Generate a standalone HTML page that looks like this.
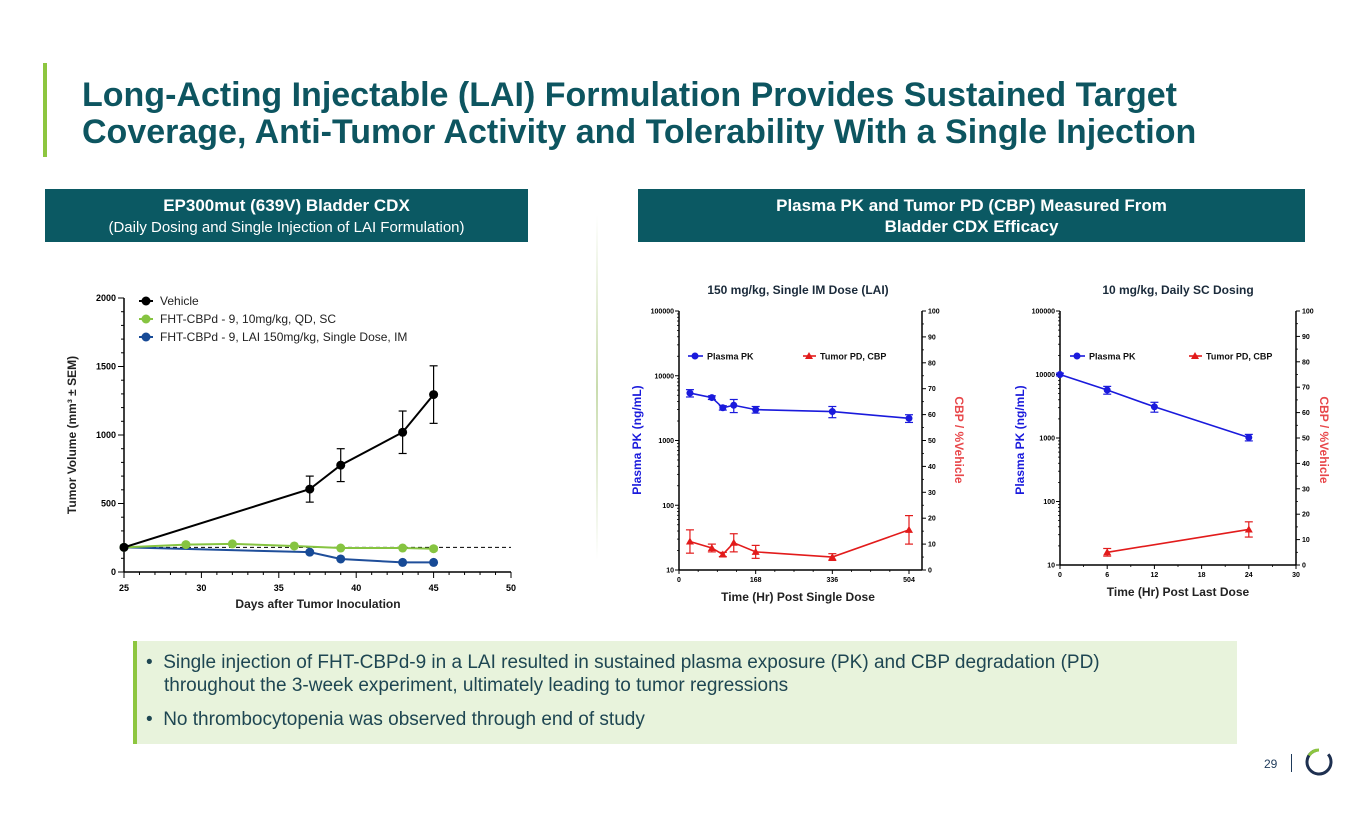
<!DOCTYPE html>
<html><head><meta charset="utf-8"><style>
body{margin:0;width:1365px;height:829px;background:#fff;overflow:hidden;position:relative;font-family:"Liberation Sans",Arial,sans-serif}
.abs{position:absolute}
.title{left:82px;top:77px;font-size:34px;font-weight:bold;color:#0d5560;line-height:37px;white-space:nowrap}
.hdr{background:#0b5963;color:#fff;text-align:center}
svg text{font-family:"Liberation Sans",Arial,sans-serif}
</style></head><body>
<div class="abs" style="left:43px;top:63px;width:4px;height:94px;background:#8dc63f"></div>
<div class="abs title">Long-Acting Injectable (LAI) Formulation Provides Sustained Target<br>Coverage, Anti-Tumor Activity and Tolerability With a Single Injection</div>
<div class="abs hdr" style="left:45px;top:189px;width:483px;height:53px">
 <div style="font-size:17px;font-weight:bold;margin-top:7px">EP300mut (639V) Bladder CDX</div>
 <div style="font-size:15px;margin-top:3px">(Daily Dosing and Single Injection of LAI Formulation)</div></div>
<div class="abs hdr" style="left:638px;top:189px;width:667px;height:53px;font-size:17px;font-weight:bold;line-height:21px">
 <div style="margin-top:6px">Plasma PK and Tumor PD (CBP) Measured From<br>Bladder CDX Efficacy</div></div>
<div class="abs" style="left:596px;top:215px;width:2px;height:345px;background:linear-gradient(#fff,#c9dcae,#fff)"></div>
<div class="abs" style="left:133px;top:641px;width:1100px;height:103px;background:#e8f3dc;border-left:4px solid #8dc63f;color:#1e4652;font-size:19px;line-height:23px">
 <div style="margin:10px 0 0 9px;padding-left:18px;text-indent:-18px;width:990px">•&nbsp; Single injection of FHT-CBPd-9 in a LAI resulted in sustained plasma exposure (PK) and CBP degradation (PD) throughout the 3-week experiment, ultimately leading to tumor regressions</div>
 <div style="margin:11px 0 0 9px">•&nbsp; No thrombocytopenia was observed through end of study</div></div>
<div class="abs" style="left:1264px;top:757px;font-size:12px;color:#1e3a5a">29</div>
<div class="abs" style="left:1291px;top:754px;width:1px;height:18px;background:#1e3a5a"></div>
<svg class="abs" style="left:1303px;top:746px" width="32" height="32"><circle cx="16" cy="16" r="12" fill="none" stroke="#1e3050" stroke-width="3" stroke-dasharray="62 100" transform="rotate(-40 16 16)"/><path d="M16 4 A12 12 0 0 0 6 9.5" fill="none" stroke="#8dc63f" stroke-width="3"/></svg>

<svg id="c" class="abs" style="left:0;top:0" width="1365" height="829"></svg>
<script>
// Chart 1: tumor volume
const days1=[25,37,39,43,45];
const vehicle=[180,605,780,1020,1295];
const vehicleErr=[0,95,120,155,210];
const daysGreen=[25,29,32,36,39,43,45];
const greenVals=[180,200,205,190,175,175,170];
const greenErr=[0,0,0,0,0,0,15];
const daysBlue=[25,37,39,43,45];
const blueVals=[180,145,95,70,70];
const baseline=180;
const xTicks1=[25,30,35,40,45,50];
const yTicks1=[0,500,1000,1500,2000];
// Chart 2: LAI
const hrs2=[24,72,96,120,168,336,504];
const pk2=[5400,4600,3200,3500,3000,2800,2200];
const pk2Err=[700,300,250,800,350,550,300];
const pd2=[11,8.5,6,10.5,7,5,15.5];
const pd2Err=[4.5,1.5,0.8,3.5,2.5,1.3,5.5];
const xTicks2=[0,168,336,504];
// Chart 3: daily SC
const hrs3=[0,6,12,24];
const pk3=[10000,5700,3100,1020];
const pk3Err=[500,800,550,120];
const hrsPd3=[6,24];
const pd3=[5,14];
const pd3Err=[1.5,3];
const xTicks3=[0,6,12,18,24,30];
const logTicks=[10,100,1000,10000,100000];
const pctTicks=[0,10,20,30,40,50,60,70,80,90,100];

const S=document.getElementById('c'),NS='http://www.w3.org/2000/svg';
function mk(t,a,txt){const e=document.createElementNS(NS,t);for(const k in a)e.setAttribute(k,a[k]);if(txt!==undefined)e.textContent=txt;S.appendChild(e);return e;}
function line(x1,y1,x2,y2,c,w,name,dash){const e=mk('line',{x1,y1,x2,y2,stroke:c,'stroke-width':w});if(dash)e.setAttribute('stroke-dasharray',dash);

return e;}
function txt(x,y,s,sz,anchor,col,bold,name,rot){const e=mk('text',{x,y,'font-size':sz,'text-anchor':anchor,fill:col},s);if(bold)e.setAttribute('font-weight','bold');if(rot)e.setAttribute('transform','rotate('+rot+' '+x+' '+y+')');

return e;}
function poly(pts,c,w,name){const e=mk('polyline',{points:pts.map(p=>p.join(',')).join(' '),fill:'none',stroke:c,'stroke-width':w});

}
function dot(x,y,r,c,name){const e=mk('circle',{cx:x,cy:y,r,fill:c});

}
function tri(x,y,c,name){const e=mk('path',{d:`M${x} ${y-4}L${x+4} ${y+3}L${x-4} ${y+3}Z`,fill:c});

}
function err(x,y1,y2,c,name){line(x,y1,x,y2,c,1.2,name);line(x-4,y1,x+4,y1,c,1.2,name);line(x-4,y2,x+4,y2,c,1.2,name);}

// ---- Chart 1
const x1=d=>124+(d-25)*387/25, y1=v=>572-v*274/2000;
line(124,298,124,572,'#000',1.5,'y-axis');line(124,572,511,572,'#000',1.5,'x-axis');
for(let d=25;d<=50;d++){line(x1(d),572,x1(d),d%5?575:578,'#000',1,'x-tick');}
for(let v=0;v<=2000;v+=100){line(124,y1(v),v%500?121:118,y1(v),'#000',1,'y-tick');}
xTicks1.forEach(d=>txt(x1(d),591,d,9,'middle','#000',true,'x-tick-label'));
yTicks1.forEach(v=>txt(116,y1(v)+3,v,9,'end','#000',true,'y-tick-label'));
txt(318,608,'Days after Tumor Inoculation',12,'middle','#222',true,'x-axis-title');
txt(76,435,'Tumor Volume (mm³ ± SEM)',12,'middle','#222',true,'y-axis-title',-90);
line(124,y1(baseline),511,y1(baseline),'#000',1,'baseline-dashed','4 3');
poly(daysBlue.map((d,i)=>[x1(d),y1(blueVals[i])]),'#1f4e9a',2,'lai-line');
daysBlue.forEach((d,i)=>dot(x1(d),y1(blueVals[i]),4.5,'#174a96','lai-point'));
poly(daysGreen.map((d,i)=>[x1(d),y1(greenVals[i])]),'#86c441',2,'qd-line');
daysGreen.forEach((d,i)=>{if(greenErr[i])err(x1(d),y1(greenVals[i]-greenErr[i]),y1(greenVals[i]+greenErr[i]),'#86c441','qd-errorbar');dot(x1(d),y1(greenVals[i]),4.5,'#86c441','qd-point');});
poly(days1.map((d,i)=>[x1(d),y1(vehicle[i])]),'#000',2,'vehicle-line');
days1.forEach((d,i)=>{if(vehicleErr[i])err(x1(d),y1(vehicle[i]-vehicleErr[i]),y1(vehicle[i]+vehicleErr[i]),'#000','vehicle-errorbar');dot(x1(d),y1(vehicle[i]),4.5,'#000','vehicle-point');});
[['Vehicle','#000'],['FHT-CBPd - 9, 10mg/kg, QD, SC','#86c441'],['FHT-CBPd - 9, LAI 150mg/kg, Single Dose, IM','#174a96']].forEach((l,i)=>{const y=301+i*18;line(139,y,153,y,l[1],2,'legend-line');dot(146,y,4.5,l[1],'legend-marker');txt(160,y+4,l[0],12,'start','#222',false,'legend-label');});

// ---- PK/PD chart builder
function pkChart(o){
 const X=h=>o.x0+h*(o.x1-o.x0)/o.xmax, YL=v=>o.yb-(Math.log10(v)-1)*(o.yb-o.yt)/4, YR=p=>o.yb-p*(o.yb-o.yt)/100;
 const xe=o.xe;
 line(o.x0,o.yt,o.x0,o.yb,'#000',1.5,'pk-y-axis');line(xe,o.yt,xe,o.yb,'#000',1.5,'pd-y-axis');line(o.x0,o.yb,xe,o.yb,'#000',1.5,'time-x-axis');
 logTicks.forEach((v,i)=>{line(o.x0-4,YL(v),o.x0,YL(v),'#000',1,'pk-tick');txt(o.x0-5,YL(v)+2.5,v,7,'end','#000',true,'pk-tick-label');
  if(i<4)for(let m=2;m<10;m++)line(o.x0-2,YL(v*m),o.x0,YL(v*m),'#000',0.8,'pk-minor-tick');});
 pctTicks.forEach(p=>{line(xe,YR(p),xe+4,YR(p),'#000',1,'pd-tick');txt(xe+6,YR(p)+2.5,p,7,'start','#000',true,'pd-tick-label');if(p<100)line(xe,YR(p+5),xe+2,YR(p+5),'#000',0.8,'pd-minor-tick');});
 o.xt.forEach(h=>{line(X(h),o.yb,X(h),o.yb+4,'#000',1,'time-tick');txt(X(h),o.yb+12,h,7,'middle','#000',true,'time-tick-label');});
 o.minor.forEach(h=>line(X(h),o.yb,X(h),o.yb+2,'#000',0.8,'time-minor-tick'));
 txt(o.tc,294,o.title,12,'middle','#1a2a3a',true,'chart-title');
 txt(o.tc,o.yb+31,o.xtitle,12,'middle','#222',true,'time-axis-title');
 txt(o.ylx,440,'Plasma PK  (ng/mL)',12,'middle','#1a1adc',true,'pk-axis-title',-90);
 txt(o.yrx,440,'CBP / %Vehicle',12,'middle','#e8474a',true,'pd-axis-title',90);
 poly(o.h.map((h,i)=>[X(h),YL(o.pk[i])]),'#1a1adc',1.6,'pk-line');
 o.h.forEach((h,i)=>{err(X(h),YL(o.pk[i]-o.pkE[i]),YL(o.pk[i]+o.pkE[i]),'#1a1adc','pk-errorbar');dot(X(h),YL(o.pk[i]),3.5,'#1a1adc','pk-point');});
 poly(o.hp.map((h,i)=>[X(h),YR(o.pd[i])]),'#e21b1b',1.6,'pd-line');
 o.hp.forEach((h,i)=>{err(X(h),YR(o.pd[i]-o.pdE[i]),YR(o.pd[i]+o.pdE[i]),'#e21b1b','pd-errorbar');tri(X(h),YR(o.pd[i]),'#e21b1b','pd-point');});
 line(o.lx,356,o.lx+15,356,'#1a1adc',1.6,'legend-pk-line');dot(o.lx+7,356,3.5,'#1a1adc','legend-pk-marker');txt(o.lx+19,359.5,'Plasma PK',9,'start','#111',true,'legend-pk-label');
 line(o.rx,356,o.rx+13,356,'#e21b1b',1.6,'legend-pd-line');tri(o.rx+6,356,'#e21b1b','legend-pd-marker');txt(o.rx+17,359.5,'Tumor PD, CBP',9,'start','#111',true,'legend-pd-label');
}
pkChart({x0:679,x1:909,xmax:504,xe:922,yt:311,yb:570,xt:xTicks2,minor:[42,84,126,210,252,294,378,420,462],
 h:hrs2,pk:pk2,pkE:pk2Err,hp:hrs2,pd:pd2,pdE:pd2Err,title:'150 mg/kg, Single IM Dose (LAI)',xtitle:'Time (Hr) Post Single Dose',tc:798,ylx:641,yrx:955,lx:688,rx:803});
pkChart({x0:1060,x1:1296,xmax:30,xe:1296,yt:311,yb:565,xt:xTicks3,minor:[3,9,15,21,27],
 h:hrs3,pk:pk3,pkE:pk3Err,hp:hrsPd3,pd:pd3,pdE:pd3Err,title:'10 mg/kg, Daily SC Dosing',xtitle:'Time (Hr) Post Last Dose',tc:1178,ylx:1024,yrx:1320,lx:1070,rx:1189});
</script>
</body></html>
